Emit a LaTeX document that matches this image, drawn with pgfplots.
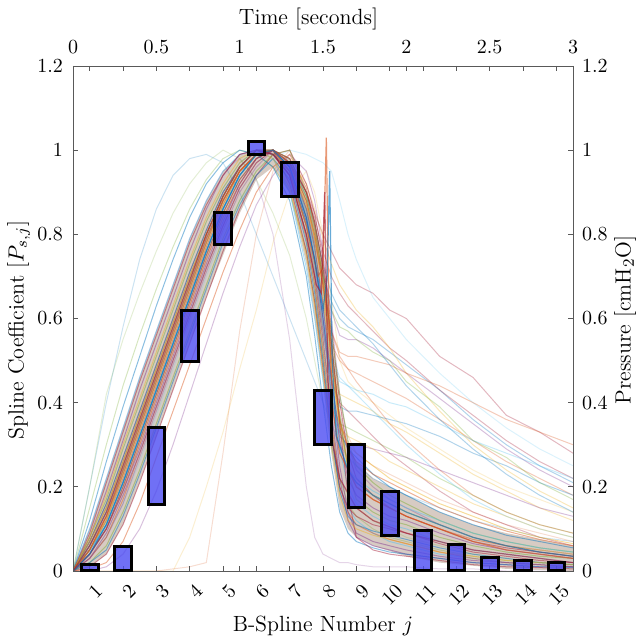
\documentclass[border=0pt]{standalone}
\usepackage{pgfplots}
\usepackage{pgfplotstable}
\pgfplotsset{compat=1.18}
\definecolor{mb}{rgb}{0,0.447,0.741}
\definecolor{mo}{rgb}{0.85,0.325,0.098}
\definecolor{my}{rgb}{0.929,0.694,0.125}
\definecolor{mp}{rgb}{0.494,0.184,0.556}
\definecolor{mg}{rgb}{0.466,0.674,0.188}
\definecolor{mc}{rgb}{0.301,0.745,0.933}
\definecolor{mr}{rgb}{0.635,0.078,0.184}
\definecolor{boxfill}{rgb}{0.3,0.3,0.95}
\definecolor{band}{rgb}{0.55,0.42,0.32}
\pgfplotscreateplotcyclelist{matlab}{mb\\mo\\my\\mp\\mg\\mc\\mr\\}

\pgfplotstableread{
name c0 c1 c2 c3 c4 c5 c6 c7 c8 c9 c10 c11 c12 c13 c14 c15 c16 c17 c18 c19 c20 c21 c22 c23 c24 c25 c26 c27 c28
t 0 0.1 0.2 0.3 0.4 0.5 0.6 0.7 0.8 0.9 1.0 1.1 1.2 1.3 1.4 1.45 1.5 1.55 1.6 1.65 1.7 1.8 1.9 2.0 2.2 2.4 2.6 2.8 3.0
M1 0 0.10 0.22 0.34 0.46 0.57 0.68 0.79 0.88 0.95 0.99 1.0 0.98 0.90 0.72 0.60 0.45 0.30 0.20 0.15 0.12 0.09 0.07 0.06 0.04 0.03 0.02 0.015 0.01
M2 0 0.01 0.04 0.11 0.21 0.32 0.43 0.54 0.65 0.76 0.86 0.94 0.99 1.0 0.92 0.85 0.74 0.58 0.40 0.28 0.22 0.18 0.15 0.13 0.10 0.07 0.055 0.045 0.035
M3 0 0.07 0.16 0.27 0.38 0.49 0.60 0.71 0.81 0.90 0.96 1.0 0.99 0.95 0.83 0.74 0.60 0.45 0.33 0.29 0.27 0.23 0.20 0.18 0.14 0.11 0.085 0.07 0.055
M4 0 0.03 0.08 0.17 0.28 0.39 0.50 0.61 0.72 0.82 0.91 0.97 1.0 0.94 0.79 0.68 0.52 0.36 0.20 0.14 0.11 0.09 0.075 0.065 0.045 0.03 0.02 0.015 0.01
M5 0 0.05 0.12 0.23 0.34 0.45 0.56 0.67 0.78 0.88 0.95 0.99 1.0 0.97 0.87 0.79 0.67 0.50 0.34 0.25 0.21 0.18 0.16 0.14 0.11 0.08 0.06 0.05 0.04
M6 0 0.08 0.19 0.31 0.43 0.54 0.65 0.76 0.86 0.94 0.99 1.0 0.99 0.94 0.80 0.70 0.55 0.38 0.22 0.12 0.08 0.06 0.05 0.04 0.03 0.02 0.015 0.01 0.01
M7 0 0.02 0.06 0.14 0.24 0.35 0.46 0.57 0.68 0.79 0.88 0.95 0.99 1.0 0.90 0.83 0.72 0.57 0.42 0.31 0.25 0.21 0.18 0.16 0.12 0.09 0.07 0.055 0.045
M8 0 0.06 0.14 0.24 0.35 0.46 0.57 0.68 0.79 0.89 0.96 1.0 1.0 0.96 0.85 0.76 0.62 0.44 0.29 0.20 0.16 0.13 0.11 0.10 0.07 0.05 0.04 0.03 0.02
M9 0 0.04 0.10 0.20 0.31 0.42 0.53 0.64 0.75 0.85 0.93 0.98 1.0 0.92 0.76 0.64 0.48 0.32 0.20 0.15 0.13 0.11 0.10 0.09 0.065 0.045 0.035 0.025 0.02
M10 0 0.12 0.26 0.39 0.51 0.63 0.74 0.84 0.92 0.97 1.0 0.99 0.96 0.88 0.70 0.56 0.40 0.25 0.14 0.09 0.07 0.055 0.045 0.04 0.03 0.02 0.015 0.01 0.008
M11 0 0.005 0.02 0.07 0.16 0.27 0.38 0.49 0.60 0.71 0.81 0.90 0.96 0.99 0.91 0.82 0.69 0.53 0.36 0.25 0.20 0.17 0.15 0.13 0.10 0.075 0.06 0.045 0.035
M12 0 0.07 0.15 0.26 0.37 0.48 0.59 0.70 0.80 0.89 0.96 1.0 1.0 0.97 0.86 0.77 0.64 0.48 0.35 0.30 0.28 0.25 0.22 0.20 0.16 0.13 0.10 0.08 0.065
M13 0 0.03 0.09 0.18 0.28 0.39 0.50 0.61 0.72 0.82 0.91 0.97 1.0 0.96 0.84 0.74 0.60 0.42 0.25 0.14 0.09 0.07 0.06 0.05 0.035 0.025 0.02 0.015 0.01
M14 0 0.08 0.17 0.29 0.40 0.51 0.62 0.73 0.83 0.91 0.97 1.0 1.0 0.98 0.89 0.81 0.70 0.54 0.37 0.24 0.17 0.14 0.12 0.11 0.08 0.06 0.045 0.035 0.03
M15 0 0.05 0.11 0.21 0.32 0.43 0.54 0.65 0.76 0.86 0.94 0.99 1.0 0.95 0.82 0.72 0.58 0.42 0.30 0.24 0.22 0.19 0.17 0.15 0.12 0.09 0.07 0.055 0.045
M16 0 0.09 0.21 0.33 0.45 0.56 0.67 0.78 0.87 0.94 0.99 1.0 1.0 0.98 0.90 0.83 0.72 0.55 0.35 0.18 0.08 0.05 0.04 0.035 0.025 0.015 0.01 0.008 0.005
M17 0 0.02 0.05 0.13 0.23 0.34 0.45 0.56 0.67 0.78 0.87 0.94 0.98 0.93 0.78 0.66 0.50 0.33 0.19 0.13 0.11 0.095 0.085 0.075 0.055 0.04 0.03 0.02 0.015
M18 0 0.05 0.13 0.23 0.34 0.45 0.56 0.67 0.78 0.88 0.95 0.99 1.0 0.97 0.88 0.80 0.68 0.51 0.36 0.29 0.26 0.23 0.21 0.19 0.15 0.12 0.095 0.075 0.06
M19 0 0.08 0.18 0.30 0.41 0.52 0.63 0.74 0.84 0.92 0.98 1.0 0.98 0.91 0.75 0.63 0.47 0.30 0.18 0.12 0.10 0.085 0.075 0.065 0.045 0.035 0.025 0.02 0.015
M20 0 0.04 0.10 0.19 0.29 0.40 0.51 0.62 0.73 0.83 0.92 0.98 1.0 0.97 0.86 0.77 0.63 0.46 0.31 0.22 0.18 0.15 0.13 0.12 0.09 0.065 0.05 0.04 0.03
F1 0 0 0.01 0.04 0.10 0.19 0.30 0.42 0.54 0.66 0.77 0.87 0.94 0.99 0.95 0.88 0.76 0.60 0.42 0.30 0.24 0.20 0.17 0.15 0.11 0.08 0.06 0.05 0.04
F2 0 0.15 0.30 0.44 0.56 0.67 0.77 0.86 0.93 0.98 1.0 0.99 0.96 0.90 0.76 0.64 0.50 0.34 0.22 0.16 0.13 0.10 0.08 0.07 0.05 0.035 0.025 0.02 0.015
S1 0 0.05 0.12 0.22 0.33 0.44 0.55 0.66 0.77 0.87 0.95 0.99 1.0 0.97 0.90 0.85 0.80 0.76 0.72 0.70 0.68 0.66 0.62 0.60 0.51 0.46 0.37 0.33 0.28
S2 0 0.06 0.14 0.25 0.36 0.47 0.58 0.69 0.80 0.89 0.96 1.0 0.99 0.95 0.86 0.78 0.70 0.64 0.60 0.58 0.57 0.55 0.52 0.49 0.43 0.36 0.30 0.25 0.21
S3 0 0.04 0.10 0.19 0.30 0.41 0.52 0.63 0.74 0.84 0.92 0.98 1.0 0.96 0.85 0.76 0.64 0.54 0.50 0.48 0.47 0.45 0.43 0.41 0.36 0.31 0.26 0.22 0.18
S4 0 0.05 0.13 0.24 0.35 0.46 0.57 0.68 0.78 0.87 0.94 0.99 1.0 0.95 0.82 0.72 0.58 0.47 0.42 0.41 0.40 0.38 0.35 0.33 0.28 0.23 0.19 0.15 0.12
S5 0 0.03 0.08 0.16 0.27 0.38 0.49 0.60 0.71 0.81 0.90 0.96 1.0 0.98 0.90 0.83 0.72 0.62 0.56 0.55 0.55 0.53 0.50 0.47 0.41 0.35 0.29 0.24 0.20
S6 0 0.06 0.15 0.26 0.37 0.48 0.59 0.70 0.80 0.89 0.96 1.0 0.99 0.94 0.80 0.68 0.53 0.40 0.35 0.34 0.33 0.31 0.29 0.27 0.22 0.18 0.14 0.11 0.09
S7 0 0.05 0.11 0.21 0.32 0.43 0.54 0.65 0.76 0.86 0.94 0.99 1.0 0.96 0.86 0.77 0.65 0.52 0.46 0.44 0.42 0.38 0.34 0.30 0.23 0.17 0.13 0.10 0.08
S8 0 0.07 0.16 0.27 0.38 0.49 0.60 0.71 0.81 0.90 0.96 1.0 1.0 0.97 0.90 0.84 0.76 0.70 0.66 0.63 0.61 0.57 0.53 0.50 0.43 0.37 0.31 0.26 0.22
S9 0 0.04 0.11 0.21 0.32 0.43 0.54 0.65 0.76 0.86 0.94 0.99 1.0 0.96 0.84 0.74 0.60 0.46 0.39 0.38 0.38 0.37 0.36 0.35 0.32 0.28 0.25 0.21 0.18
S10 0 0.05 0.12 0.23 0.34 0.45 0.56 0.67 0.78 0.88 0.95 0.99 1.0 0.96 0.87 0.79 0.68 0.57 0.51 0.48 0.45 0.40 0.35 0.31 0.24 0.18 0.14 0.11 0.09
S11 0 0.05 0.12 0.22 0.33 0.44 0.55 0.66 0.77 0.87 0.95 0.99 1.0 0.98 0.92 0.86 0.79 0.73 0.68 0.65 0.62 0.58 0.53 0.47 0.38 0.30 0.24 0.19 0.15
S12 0 0.06 0.13 0.24 0.35 0.46 0.57 0.68 0.79 0.88 0.95 0.99 1.0 0.95 0.83 0.73 0.58 0.42 0.32 0.30 0.30 0.29 0.28 0.27 0.24 0.21 0.18 0.15 0.13
S13 0 0.04 0.10 0.20 0.31 0.42 0.53 0.64 0.75 0.85 0.93 0.98 1.0 0.97 0.88 0.80 0.70 0.62 0.58 0.57 0.55 0.52 0.50 0.45 0.39 0.31 0.27 0.21 0.17
S14 0 0.05 0.12 0.23 0.34 0.45 0.56 0.67 0.78 0.88 0.95 0.99 1.0 0.96 0.86 0.76 0.62 0.50 0.45 0.44 0.43 0.42 0.40 0.39 0.35 0.31 0.28 0.25 0.22
S15 0 0.07 0.15 0.26 0.37 0.48 0.59 0.70 0.80 0.89 0.96 1.0 0.99 0.94 0.82 0.71 0.57 0.45 0.40 0.38 0.36 0.32 0.28 0.25 0.19 0.14 0.11 0.08 0.06
S16 0 0.05 0.11 0.21 0.32 0.43 0.54 0.65 0.76 0.86 0.94 0.99 1.0 0.97 0.89 0.82 0.73 0.66 0.62 0.60 0.58 0.54 0.49 0.44 0.36 0.29 0.23 0.18 0.14
S17 0 0.04 0.10 0.19 0.30 0.41 0.52 0.63 0.74 0.84 0.92 0.98 1.0 0.97 0.88 0.79 0.67 0.57 0.52 0.51 0.51 0.50 0.49 0.47 0.44 0.40 0.36 0.33 0.30
S18 0 0.06 0.14 0.25 0.36 0.47 0.58 0.69 0.80 0.89 0.96 1.0 0.99 0.95 0.82 0.70 0.55 0.41 0.34 0.32 0.31 0.29 0.26 0.24 0.20 0.16 0.13 0.10 0.08
O1 0 0.20 0.40 0.58 0.74 0.86 0.94 0.98 0.99 0.97 0.90 0.80 0.70 0.60 0.50 0.45 0.40 0.35 0.30 0.27 0.25 0.22 0.20 0.18 0.15 0.12 0.10 0.08 0.07
O2 0 0 0 0 0 0 0.005 0.01 0.02 0.28 0.57 0.80 0.95 1.0 0.90 0.82 0.70 0.55 0.40 0.32 0.28 0.25 0.23 0.21 0.17 0.14 0.11 0.09 0.07
O3 0 0 0 0 0 0 0 0.08 0.20 0.33 0.48 0.62 0.78 0.90 0.95 0.90 0.80 0.65 0.50 0.45 0.43 0.40 0.37 0.34 0.29 0.24 0.20 0.17 0.14
O4 0 0.10 0.22 0.34 0.46 0.57 0.68 0.79 0.88 0.95 0.98 0.93 0.80 0.55 0.20 0.08 0.04 0.03 0.02 0.02 0.015 0.01 0.01 0.01 0.005 0.005 0 0 0
O5 0 0.20 0.42 0.55 0.66 0.76 0.85 0.92 0.97 1.0 0.98 0.93 0.85 0.75 0.60 0.50 0.40 0.30 0.22 0.18 0.15 0.12 0.10 0.08 0.06 0.04 0.03 0.02 0.015
O6 0 0.03 0.08 0.16 0.26 0.37 0.48 0.59 0.70 0.80 0.88 0.94 0.98 1.0 0.99 0.98 0.97 0.95 0.88 0.80 0.74 0.65 0.60 0.55 0.47 0.40 0.34 0.29 0.25
}\rawcurves
\pgfplotstabletranspose[colnames from=name]\curves\rawcurves

\pgfplotstableread{
j lo h
1 0 0.015
2 0 0.058
3 0.158 0.182
4 0.497 0.123
5 0.776 0.075
6 0.99 0.03
7 0.891 0.079
8 0.301 0.129
9 0.150 0.150
10 0.0855 0.1025
11 0 0.097
12 0 0.062
13 0 0.032
14 0 0.025
15 0 0.020
}\boxes

\begin{document}
\begin{tikzpicture}
\useasboundingbox (-36.5pt,-34.5pt) rectangle (281.5pt,285.5pt);
% time / pressure axis with the waveforms
\begin{axis}[
  at={(0pt,0pt)}, anchor=south west,
  scale only axis, width=250pt, height=252.5pt,
  xmin=0, xmax=3, ymin=0, ymax=1.2,
  xtick={0,0.5,1,1.5,2,2.5,3},
  ytick={0,0.2,0.4,0.6,0.8,1,1.2},
  xticklabel pos=right, yticklabel pos=right,
  xtick pos=both, ytick pos=both,
  tick align=inside, major tick length=2.5pt,
  axis line style={black!65, line width=0.4pt},
  tick style={black!65, line width=0.4pt},
  xticklabel style={yshift=2.5pt},
  yticklabel style={xshift=1pt},
  xlabel={Time [seconds]}, ylabel={Pressure [cmH$_2$O]},
  xlabel style={at={(axis description cs:0.471,1.094)}, anchor=center, font=\fontsize{11}{13}\selectfont},
  ylabel style={at={(axis description cs:1.104,0.497)}, anchor=center, font=\fontsize{11}{13}\selectfont},
  cycle list name=matlab,
  clip=true,
]
\addplot[fill=band, fill opacity=0.35, draw=none, forget plot] coordinates {
 (0,0)(0.1,0.1)(0.2,0.22)(0.3,0.34)(0.4,0.46)(0.5,0.57)(0.6,0.68)(0.7,0.79)(0.8,0.88)(0.9,0.95)(1.0,0.99)(1.1,1.0)(1.2,1.0)(1.3,0.98)(1.4,0.9)(1.45,0.83)(1.5,0.72)(1.55,0.55)(1.6,0.38)(1.65,0.3)(1.7,0.26)(1.8,0.22)(2.0,0.18)(2.2,0.14)(2.4,0.11)(2.6,0.09)(2.8,0.075)(3.0,0.06)
 (3.0,0)(2.6,0.005)(2.2,0.02)(2.0,0.035)(1.8,0.06)(1.7,0.08)(1.65,0.1)(1.6,0.15)(1.55,0.28)(1.5,0.45)(1.45,0.6)(1.4,0.73)(1.3,0.9)(1.2,0.96)(1.1,0.93)(1.0,0.85)(0.9,0.75)(0.8,0.65)(0.7,0.54)(0.6,0.43)(0.5,0.32)(0.4,0.21)(0.3,0.11)(0.2,0.04)(0.1,0.01)(0,0)
} -- cycle;
\pgfplotsinvokeforeach{O1,O2,O3,O4,O5,O6}{
  \addplot+[mark=none, line width=0.5pt, opacity=0.2] table[x=t, y=#1]{\curves};
}
\pgfplotsinvokeforeach{S1,S2,S3,S4,S5,S6,S7,S8,S9,S10,S11,S12,S13,S14,S15,S16,S17,S18,F1,F2}{
  \addplot+[mark=none, line width=0.5pt, opacity=0.3] table[x=t, y=#1]{\curves};
}
\pgfplotsinvokeforeach{M1,M2,M3,M4,M5,M6,M7,M8,M9,M10,M11,M12,M13,M14,M15,M16,M17,M18,M19,M20}{
  \addplot+[mark=none, line width=0.5pt, opacity=0.45] table[x=t, y=#1]{\curves};
}
\addplot[mo, mark=none, line width=0.6pt, opacity=0.6] coordinates {
 (0,0)(0.1,0.05)(0.2,0.13)(0.3,0.24)(0.4,0.35)(0.5,0.46)(0.6,0.57)(0.7,0.68)(0.8,0.79)(0.9,0.88)(1.0,0.95)(1.1,0.99)(1.2,1.0)(1.3,0.95)(1.4,0.82)(1.47,0.7)(1.5,0.72)(1.52,1.03)(1.535,0.6)(1.56,0.38)(1.6,0.28)(1.7,0.2)(1.8,0.17)(2.0,0.13)(2.2,0.1)(2.4,0.07)(2.6,0.05)(2.8,0.04)(3.0,0.03)};
\addplot[mb, mark=none, line width=0.6pt, opacity=0.6] coordinates {
 (0,0)(0.1,0.04)(0.2,0.11)(0.3,0.21)(0.4,0.32)(0.5,0.43)(0.6,0.54)(0.7,0.65)(0.8,0.76)(0.9,0.86)(1.0,0.94)(1.1,0.99)(1.2,1.0)(1.3,0.96)(1.4,0.84)(1.45,0.74)(1.5,0.62)(1.525,0.7)(1.54,0.95)(1.555,0.5)(1.58,0.32)(1.65,0.24)(1.7,0.21)(1.8,0.18)(2.0,0.14)(2.2,0.11)(2.4,0.08)(2.6,0.06)(2.8,0.045)(3.0,0.035)};
\addplot[mr, mark=none, line width=0.6pt, opacity=0.6] coordinates {
 (0,0)(0.1,0.06)(0.2,0.14)(0.3,0.25)(0.4,0.36)(0.5,0.47)(0.6,0.58)(0.7,0.69)(0.8,0.8)(0.9,0.89)(1.0,0.96)(1.1,1.0)(1.2,0.99)(1.3,0.94)(1.4,0.8)(1.46,0.68)(1.49,0.66)(1.51,0.9)(1.53,0.45)(1.56,0.3)(1.6,0.22)(1.7,0.15)(1.8,0.12)(2.0,0.09)(2.2,0.07)(2.4,0.05)(2.6,0.04)(2.8,0.03)(3.0,0.02)};
\end{axis}
% B-spline axis with the coefficient boxes
\begin{axis}[
  at={(0pt,0pt)}, anchor=south west,
  scale only axis, width=250pt, height=252.5pt,
  xmin=0.5, xmax=15.5, ymin=0, ymax=1.2,
  xtick={1,...,15},
  ytick={0,0.2,0.4,0.6,0.8,1,1.2},
  xticklabel pos=left, yticklabel pos=left,
  xtick pos=both, ytick pos=both,
  tick align=inside, major tick length=2.5pt,
  axis line style={black!65, line width=0.4pt},
  tick style={black!65, line width=0.4pt},
  xticklabel style={xshift=2.5pt, yshift=-4.5pt, rotate=45, anchor=north east, inner sep=1pt},
  yticklabel style={xshift=-1.5pt},
  xlabel={B-Spline Number $j$}, ylabel={Spline Coefficient [$P_{s,j}$]},
  xlabel style={at={(axis description cs:0.5,-0.109)}, anchor=center, font=\fontsize{11}{13}\selectfont},
  ylabel style={at={(axis description cs:-0.109,0.477)}, anchor=center, font=\fontsize{11}{13}\selectfont},
  ybar stacked, bar width=0.5,
  clip=false,
]
\addplot[draw=none, fill=none, forget plot] table[x=j, y=lo]{\boxes};
\addplot[draw=black, line width=1.5pt, fill=boxfill, fill opacity=0.8] table[x=j, y=h]{\boxes};
\end{axis}
\end{tikzpicture}
\end{document}
